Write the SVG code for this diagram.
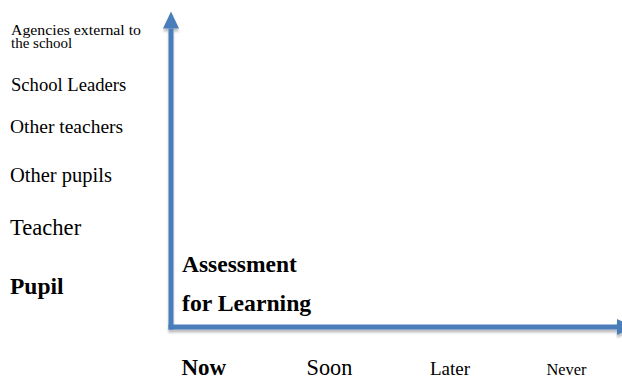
<svg xmlns="http://www.w3.org/2000/svg" width="622" height="378" viewBox="0 0 622 378">
<style>
text{font-family:"Liberation Serif","Times New Roman",serif;fill:#000}
.b{font-weight:bold}
.ax{stroke:#4a7ebb;stroke-width:5;fill:none}
</style>
<defs>
<marker id="ah" markerUnits="userSpaceOnUse" markerWidth="18" markerHeight="17" refX="0" refY="8" orient="auto" overflow="visible">
<path d="M0,0 L17,8 L0,16 z" fill="#4a7ebb"/>
</marker>
<filter id="sh" x="-10%" y="-10%" width="120%" height="120%">
<feDropShadow dx="0" dy="3" stdDeviation="0.8" flood-color="#000" flood-opacity="0.25"/>
</filter>
</defs>
<g id="connectors" filter="url(#sh)">
<line class="ax" x1="171" y1="329.5" x2="171" y2="28.5" marker-end="url(#ah)"/>
<line class="ax" x1="168.5" y1="327" x2="617" y2="327" marker-end="url(#ah)"/>
</g>
<g id="y-labels">
<g id="agencies"><text x="11" y="35" font-size="15" textLength="130" lengthAdjust="spacingAndGlyphs">Agencies external to</text><text x="11" y="47.5" font-size="15">the school</text></g>
<g id="leaders"><text x="11" y="90.5" font-size="18.6">School Leaders</text></g>
<g id="teachers"><text x="10" y="133" font-size="19.5">Other teachers</text></g>
<g id="pupils"><text x="10" y="181.5" font-size="20.5">Other pupils</text></g>
<g id="teacher"><text x="10" y="235" font-size="22.6">Teacher</text></g>
<g id="pupil"><text class="b" x="10" y="294" font-size="23.5">Pupil</text></g>
</g>
<g id="afl"><text class="b" x="182" y="272" font-size="23.5">Assessment</text><text class="b" x="182" y="310.5" font-size="23.7">for Learning</text></g>
<g id="x-labels">
<g id="now"><text class="b" x="181.5" y="374.5" font-size="23">Now</text></g>
<g id="soon"><text x="306.5" y="374.5" font-size="22.3">Soon</text></g>
<g id="later"><text x="430" y="374.5" font-size="19">Later</text></g>
<g id="never"><text x="546.5" y="374.5" font-size="16.4">Never</text></g>
</g>
</svg>
